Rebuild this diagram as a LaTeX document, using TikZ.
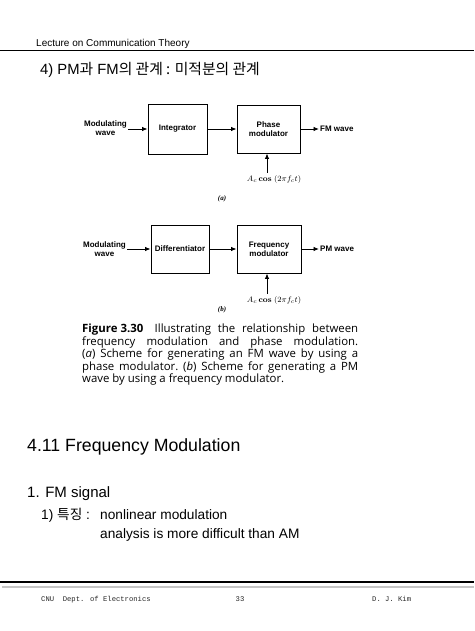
\documentclass[tikz,border=0pt]{standalone}
\usepackage[no-math]{fontspec}
\setmainfont{Liberation Sans}
\newfontfamily\kr{Noto Sans CJK KR}
\newfontfamily\capfont{Open Sans}
\newfontfamily\footfont{Liberation Mono}
\newfontfamily\serf{Liberation Serif}
\usetikzlibrary{arrows.meta}
\begin{document}
\begin{tikzpicture}[x=1pt,y=-1pt,
  blk/.style={draw, line width=0.9pt, inner sep=0pt, align=center,
    font=\fontsize{8}{9}\selectfont\bfseries},
  lbl/.style={inner sep=1pt, align=center, font=\fontsize{8}{9}\selectfont\bfseries},
  arr/.style={-{Latex[length=5.5pt,width=4.5pt]}, line width=0.9pt},
  carrier/.style={inner sep=1pt, font=\fontsize{8}{9}\selectfont},
  sub/.style={inner sep=0pt, font=\serf\fontsize{7}{8}\selectfont\bfseries\itshape}]
\useasboundingbox (0,0) rectangle (474,631);
% header
\node[anchor=base west, inner sep=0, font=\fontsize{10}{12}\selectfont] (hdr) at (36,47) {Lecture on Communication Theory};
\draw[line width=1pt] (0,51) -- (474,51);
\node[anchor=base west, inner sep=0, font=\fontsize{14.8}{17}\selectfont] (ttl) at (40,75)
  {4) PM{\kr 과} FM{\kr 의 관계 : 미적분의 관계}};
% diagram (a)
\node[blk, minimum width=59pt, minimum height=50pt] (integ) at (177.5,129) {Integrator};
\node[blk, minimum width=63pt, minimum height=48pt] (phmod) at (268.5,129) {Phase\\modulator};
\node[lbl, anchor=east] (mwa) at (128,128) {Modulating\\wave};
\node[lbl, anchor=west] (fmw) at (319,129) {FM wave};
\node[carrier] (cara) at (274,180) {$A_c\,\mathbf{cos}\;(2\pi f_c t)$};
\coordinate (ca) at (267,173);
\node[sub] (la) at (222,199) {(a)};
\draw[arr] (mwa.east |- integ.west) -- (integ.west);
\draw[arr] (integ.east) -- (phmod.west);
\draw[arr] (phmod.east) -- (fmw.west);
\draw[arr] (ca) -- (ca |- phmod.south);
% diagram (b)
\node[blk, minimum width=58pt, minimum height=48pt] (diff) at (180,249) {Differentiator};
\node[blk, minimum width=64pt, minimum height=48pt] (fmod) at (269,249) {Frequency\\modulator};
\node[lbl, anchor=east] (mwb) at (127,249) {Modulating\\wave};
\node[lbl, anchor=west] (pmw) at (319,249) {PM wave};
\node[carrier] (carb) at (274,300) {$A_c\,\mathbf{cos}\;(2\pi f_c t)$};
\coordinate (cb) at (267,294);
\node[sub] (lb) at (222,310) {(b)};
\draw[arr] (mwb.east |- diff.west) -- (diff.west);
\draw[arr] (diff.east) -- (fmod.west);
\draw[arr] (fmod.east) -- (pmw.west);
\draw[arr] (cb) -- (cb |- fmod.south);
% caption
\node[anchor=north west, inner sep=0, text width=276pt, align=justify,
  font=\capfont\fontsize{11.4}{11.4}\selectfont\frenchspacing] (cap) at (82,324)
  {\hbox{\textbf{Figure 3.30}}\quad Illustrating the relationship between\linebreak
   frequency modulation and phase modulation.\linebreak
   (\textit{a}) Scheme for generating an FM wave by using a\linebreak
   phase modulator. (\textit{b}) Scheme for generating a PM\linebreak
   wave by using a frequency modulator.\par};
% body text
\node[anchor=base west, inner sep=0, font=\fontsize{17.7}{20}\selectfont] (sec) at (27,451) {4.11 Frequency Modulation};
\node[anchor=base west, inner sep=0, font=\fontsize{15}{18}\selectfont] (s1) at (27,497) {1. FM signal};
\node[anchor=base west, inner sep=0, font=\fontsize{13.7}{16}\selectfont] (s11) at (41,519) {1) {\kr 특징} :};
\node[anchor=base west, inner sep=0, font=\fontsize{13.7}{16}\selectfont] (s11a) at (100,519) {nonlinear modulation};
\node[anchor=base west, inner sep=0, font=\fontsize{13.7}{16}\selectfont] (s11b) at (100,538) {analysis is more difficult than AM};
% footer
\draw[line width=1.3pt] (0,582) -- (474,582);
\draw[line width=1.3pt, gray!45] (2,587) -- (474,587);
\node[anchor=base west, inner sep=0, text=black!85, font=\footfont\fontsize{7.2}{9}\selectfont] (f1) at (41,601) {CNU\ \ Dept. of Electronics};
\node[anchor=base, inner sep=0, text=black!85, font=\footfont\fontsize{7.2}{9}\selectfont] (f2) at (240,601) {33};
\node[anchor=base west, inner sep=0, text=black!85, font=\footfont\fontsize{7.2}{9}\selectfont] (f3) at (372,601) {D. J. Kim};
\end{tikzpicture}
\end{document}
